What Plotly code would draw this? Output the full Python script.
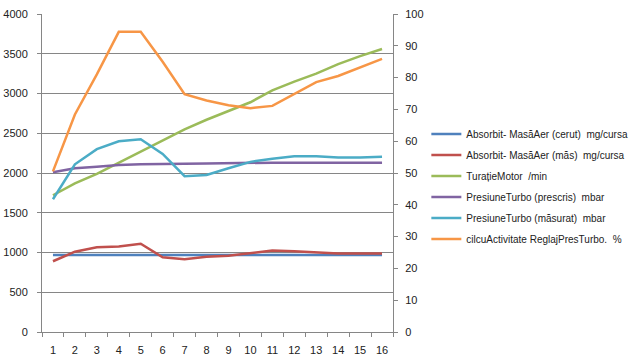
import plotly.graph_objects as go

categories = [str(i) for i in range(1, 17)]

absorbit_cerut = [970] * 16
absorbit_mas = [890, 1010, 1065, 1075, 1110, 940, 915, 945, 960, 995, 1025, 1015, 1000, 988, 988, 988]
turatie_motor = [1720, 1870, 1990, 2130, 2270, 2410, 2550, 2670, 2780, 2890, 3040, 3150, 3250, 3370, 3470, 3560]
presiune_prescris = [2010, 2060, 2080, 2100, 2110, 2110, 2115, 2120, 2125, 2130, 2130, 2130, 2130, 2130, 2130, 2130]
presiune_masurat = [1670, 2110, 2300, 2400, 2425, 2240, 1960, 1975, 2060, 2140, 2180, 2210, 2210, 2195, 2195, 2205]
ciclu_activitate = [50.5, 68.4, 81.0, 94.4, 94.4, 85.0, 74.8, 72.8, 71.3, 70.4, 71.1, 74.8, 78.6, 80.5, 83.2, 85.9]

names = [
    "Absorbit- MasăAer (cerut)  mg/cursa",
    "Absorbit- MasăAer (măs)  mg/cursa",
    "TurațieMotor  /min",
    "PresiuneTurbo (prescris)  mbar",
    "PresiuneTurbo (măsurat)  mbar",
    "cilcuActivitate ReglajPresTurbo.  %",
]
colors = ["#4F81BD", "#C0504D", "#9BBB59", "#8064A2", "#4BACC6", "#F79646"]

fig = go.Figure()
series = [absorbit_cerut, absorbit_mas, turatie_motor, presiune_prescris, presiune_masurat]
for i, s in enumerate(series):
    fig.add_trace(go.Scatter(x=categories, y=s, mode="lines", name=names[i],
                             line=dict(color=colors[i], width=2.5), legendgroup=str(i)))
fig.add_trace(go.Scatter(x=categories, y=ciclu_activitate, mode="lines", name=names[5],
                         line=dict(color=colors[5], width=2.5), yaxis="y2", legendgroup="5"))

axis_font = dict(family="Liberation Sans, Arial, sans-serif", size=11, color="#222")
fig.update_layout(
    width=640, height=357,
    margin=dict(l=42, r=247, t=14, b=25, autoexpand=False),
    paper_bgcolor="white", plot_bgcolor="white",
    font=axis_font,
    xaxis=dict(type="category", range=[-0.5, 15.5], tickson="boundaries", ticks="outside",
               ticklen=4, tickcolor="#868686", showline=True, linecolor="#868686", linewidth=1,
               showgrid=False, tickfont=axis_font, automargin=False, ticklabelstandoff=8),
    yaxis=dict(range=[0, 4000], dtick=500, ticks="outside", ticklen=4, tickcolor="#868686",
               showline=True, linecolor="#868686", showgrid=True, gridcolor="#868686",
               gridwidth=1, zeroline=False, tickfont=axis_font, automargin=False,
               ticklabelstandoff=7),
    yaxis2=dict(range=[0, 100], dtick=10, overlaying="y", side="right", ticks="outside",
                ticklen=4, tickcolor="#868686", showline=True, linecolor="#868686",
                showgrid=False, zeroline=False, tickfont=axis_font, automargin=False,
                ticklabelstandoff=5),
    legend=dict(x=1.095, xanchor="left", xref="paper", y=0.668, yanchor="top",
                font=dict(family="Liberation Sans, Arial, sans-serif", size=10, color="#222"),
                tracegroupgap=2, itemwidth=30, bgcolor="rgba(0,0,0,0)"),
    showlegend=True,
)
fig.write_html("out.html", config={"displayModeBar": False},
               post_script="document.body.style.margin='0';document.body.style.overflow='hidden';")
